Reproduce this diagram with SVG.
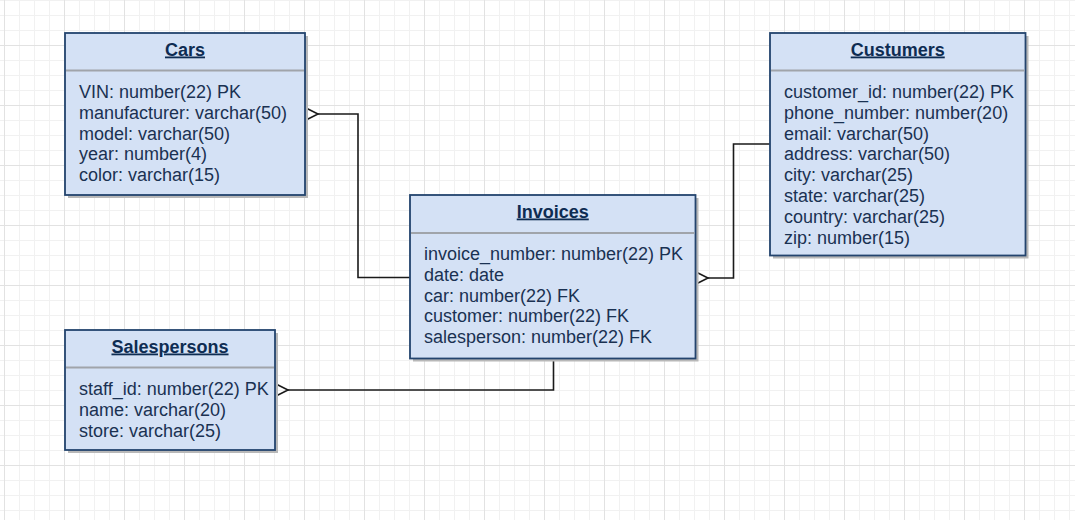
<svg xmlns="http://www.w3.org/2000/svg" width="1075" height="520" viewBox="0 0 1075 520">
<defs>
<style>
.box{fill:#d4e1f5;stroke:#23446e;stroke-width:1.8}
.shadow{fill:#b8b8b8}
.sep{stroke:#a0a4aa;stroke-width:2}
.title{font-family:"Liberation Sans",Arial,sans-serif;font-size:18px;font-weight:bold;fill:#0e2c52;text-anchor:middle;text-decoration:underline}
.row{font-family:"Liberation Sans",Arial,sans-serif;font-size:18px;fill:#1a3152}
.edge{fill:none;stroke:#1a1a1a;stroke-width:1.6}
</style>
<pattern id="minor" patternUnits="userSpaceOnUse" x="4" y="0" width="15" height="15">
<path d="M0 0.5H15M0.5 0V15" fill="none" stroke="#f1f1f1" stroke-width="1"/>
</pattern>
<pattern id="major" patternUnits="userSpaceOnUse" x="4" y="45" width="60" height="60">
<path d="M0 0.5H60M0.5 0V60" fill="none" stroke="#e2e2e2" stroke-width="1"/>
</pattern>
</defs>
<rect width="1075" height="520" fill="#ffffff"/>
<rect width="1075" height="520" fill="url(#minor)"/>
<rect width="1075" height="520" fill="url(#major)"/>

<g id="connectors">
<path class="edge" d="M318 114H358V277.5H410"/>
<path class="edge" d="M305 107.5L318 114L305 120.5"/>
<path class="edge" d="M708 278H733.5V144H770"/>
<path class="edge" d="M695 271.5L708 278L695 284.5"/>
<path class="edge" d="M288 390H553.5V358.5"/>
<path class="edge" d="M275 383.5L288 390L275 396.5"/>
</g>

<g id="cars">
<rect class="shadow" x="68" y="36" width="240" height="162"/>
<rect class="box" x="65" y="33" width="240" height="162"/>
<line class="sep" x1="66" y1="70.5" x2="304" y2="70.5"/>
<text class="title" x="185" y="55.5">Cars</text>
<text class="row" x="79" y="98">VIN: number(22) PK</text>
<text class="row" x="79" y="118.8">manufacturer: varchar(50)</text>
<text class="row" x="79" y="139.6">model: varchar(50)</text>
<text class="row" x="79" y="160.4">year: number(4)</text>
<text class="row" x="79" y="181.2">color: varchar(15)</text>
</g>

<g id="custumers">
<rect class="shadow" x="773" y="36" width="255.5" height="222.5"/>
<rect class="box" x="770" y="33" width="255.5" height="222.5"/>
<line class="sep" x1="771" y1="70.5" x2="1024.5" y2="70.5"/>
<text class="title" x="897.75" y="55.5">Custumers</text>
<text class="row" x="784" y="98">customer_id: number(22) PK</text>
<text class="row" x="784" y="118.8">phone_number: number(20)</text>
<text class="row" x="784" y="139.6">email: varchar(50)</text>
<text class="row" x="784" y="160.4">address: varchar(50)</text>
<text class="row" x="784" y="181.2">city: varchar(25)</text>
<text class="row" x="784" y="202">state: varchar(25)</text>
<text class="row" x="784" y="222.8">country: varchar(25)</text>
<text class="row" x="784" y="243.6">zip: number(15)</text>
</g>

<g id="invoices">
<rect class="shadow" x="413" y="198" width="285.5" height="163.5"/>
<rect class="box" x="410" y="195" width="285.5" height="163.5"/>
<line class="sep" x1="411" y1="233" x2="694.5" y2="233"/>
<text class="title" x="552.75" y="217.5">Invoices</text>
<text class="row" x="424" y="260">invoice_number: number(22) PK</text>
<text class="row" x="424" y="280.8">date: date</text>
<text class="row" x="424" y="301.6">car: number(22) FK</text>
<text class="row" x="424" y="322.4">customer: number(22) FK</text>
<text class="row" x="424" y="343.2">salesperson: number(22) FK</text>
</g>

<g id="salespersons">
<rect class="shadow" x="68" y="333" width="210" height="120"/>
<rect class="box" x="65" y="330" width="210" height="120"/>
<line class="sep" x1="66" y1="367.5" x2="274" y2="367.5"/>
<text class="title" x="170" y="352.5">Salespersons</text>
<text class="row" x="79" y="395">staff_id: number(22) PK</text>
<text class="row" x="79" y="415.8">name: varchar(20)</text>
<text class="row" x="79" y="436.6">store: varchar(25)</text>
</g>
</svg>
